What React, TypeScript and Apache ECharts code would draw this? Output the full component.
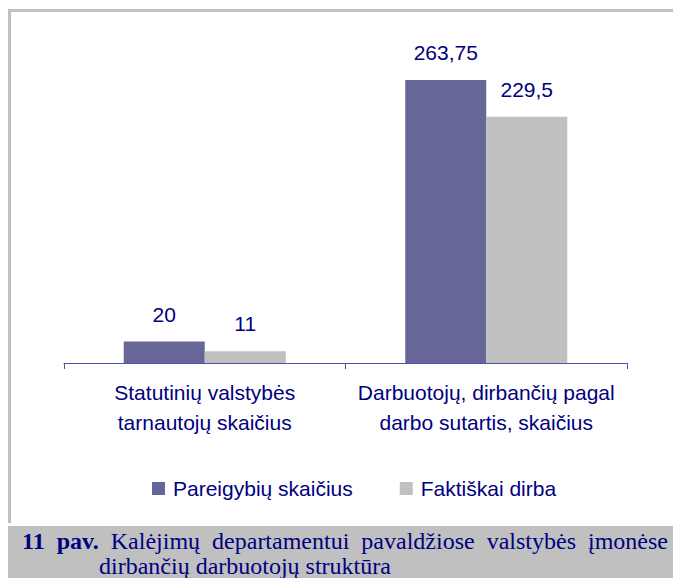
import React, { useEffect, useRef } from "react";
import * as echarts from "echarts";

const categories = [
  "Statutinių valstybės\ntarnautojų skaičius",
  "Darbuotojų, dirbančių pagal\ndarbo sutartis, skaičius",
];
const seriesNames = ["Pareigybių skaičius", "Faktiškai dirba"];
const planned = [20, 263.75];
const actual = [11, 229.5];
const captionLine1 = [
  { t: "11", bold: true },
  { t: "pav.", bold: true },
  { t: "Kalėjimų", bold: false },
  { t: "departamentui", bold: false },
  { t: "pavaldžiose", bold: false },
  { t: "valstybės", bold: false },
  { t: "įmonėse", bold: false },
];
const captionLine2 = "dirbančių darbuotojų struktūra";

const NAVY = "#000080";
const SANS = "'Liberation Sans', Arial, sans-serif";
const SERIF = "'Liberation Serif', 'Times New Roman', serif";
const CAP_FS = 24;

function measure(text: string, font: string) {
  const c = document.createElement("canvas").getContext("2d")!;
  c.font = font;
  return c.measureText(text).width;
}

export default function App() {
  const ref = useRef<HTMLDivElement>(null);
  useEffect(() => {
    const chart = echarts.init(ref.current!, undefined, { renderer: "svg" });
    const fmt = (p: any) => String(p.value).replace(".", ",");

    // justified caption first line
    const x0 = 22;
    const x1 = 668;
    const widths = captionLine1.map((w) =>
      measure(w.t, `${w.bold ? "bold " : ""}${CAP_FS}px 'Liberation Serif'`)
    );
    const total = widths.reduce((a, b) => a + b, 0);
    const gap = (x1 - x0 - total) / (captionLine1.length - 1);
    let cx = x0;
    const capTexts: any[] = captionLine1.map((w, i) => {
      const el = {
        type: "text",
        x: cx,
        y: 541,
        style: {
          text: w.t,
          font: `${w.bold ? "bold " : ""}${CAP_FS}px ${SERIF}`,
          fill: NAVY,
          verticalAlign: "middle",
        },
      };
      cx += widths[i] + gap;
      return el;
    });
    capTexts.push({
      type: "text",
      x: 99,
      y: 566,
      style: {
        text: captionLine2,
        font: `${CAP_FS}px ${SERIF}`,
        fill: NAVY,
        verticalAlign: "middle",
      },
    });

    chart.setOption({
      animation: false,
      backgroundColor: "#ffffff",
      textStyle: { fontFamily: SANS },
      grid: { left: 64, right: 46, top: 41, bottom: 215 },
      legend: {
        left: 152,
        top: 478,
        padding: 0,
        itemWidth: 13,
        itemHeight: 13,
        itemGap: 47,
        icon: "rect",
        data: seriesNames,
        textStyle: { fontSize: 21, color: NAVY, fontFamily: SANS, padding: [0, 0, 0, 3] },
      },
      xAxis: {
        type: "category",
        data: categories,
        axisLine: { show: true, lineStyle: { color: "#5252a8", width: 1 } },
        axisTick: { show: true, length: 6, lineStyle: { color: "#5252a8" } },
        axisLabel: {
          interval: 0,
          margin: 14,
          fontSize: 21,
          lineHeight: 30,
          color: NAVY,
          fontFamily: SANS,
        },
      },
      yAxis: {
        type: "value",
        min: 0,
        max: 300,
        show: false,
        splitLine: { show: false },
      },
      series: [
        {
          name: seriesNames[0],
          type: "bar",
          data: planned,
          barWidth: 81,
          barGap: "0%",
          itemStyle: { color: "#666699" },
          label: {
            show: true,
            position: "top",
            distance: 17,
            formatter: fmt,
            fontSize: 21,
            color: NAVY,
            fontFamily: SANS,
          },
        },
        {
          name: seriesNames[1],
          type: "bar",
          data: actual,
          barWidth: 81,
          barGap: "0%",
          itemStyle: { color: "#c0c0c0" },
          label: {
            show: true,
            position: "top",
            distance: 17,
            formatter: fmt,
            fontSize: 21,
            color: NAVY,
            fontFamily: SANS,
          },
        },
      ],
      graphic: [
        { type: "rect", shape: { x: 8, y: 9, width: 665, height: 3 }, style: { fill: "#c0c0c0" }, silent: true },
        { type: "rect", shape: { x: 8, y: 9, width: 3, height: 514 }, style: { fill: "#c0c0c0" }, silent: true },
        { type: "rect", shape: { x: 8, y: 526, width: 665, height: 52 }, style: { fill: "#c0c0c0" }, silent: true },
        ...capTexts,
      ],
    });
    return () => chart.dispose();
  }, []);
  return (
    <div
      ref={ref}
      style={{ position: "absolute", left: 0, top: 0, width: 673, height: 578 }}
    />
  );
}
